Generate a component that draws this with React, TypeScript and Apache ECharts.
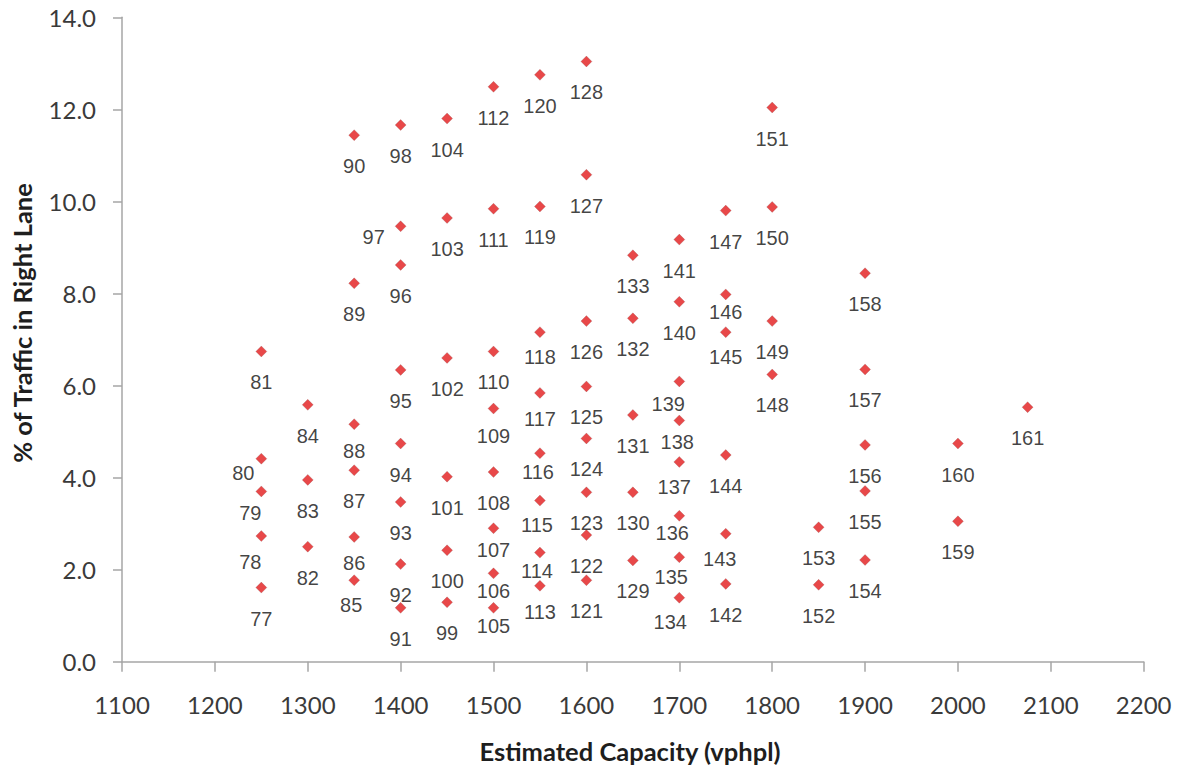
import React, { useEffect, useRef } from "react";
import * as echarts from "echarts";

const pointIds = [
  77, 78, 79, 80, 81, 82, 83, 84, 85, 86, 87, 88, 89, 90, 91, 92, 93, 94, 95, 96,
  97, 98, 99, 100, 101, 102, 103, 104, 105, 106, 107, 108, 109, 110, 111, 112,
  113, 114, 115, 116, 117, 118, 119, 120, 121, 122, 123, 124, 125, 126, 127, 128,
  129, 130, 131, 132, 133, 134, 135, 136, 137, 138, 139, 140, 141, 142, 143, 144,
  145, 146, 147, 148, 149, 150, 151, 152, 153, 154, 155, 156, 157, 158, 159, 160, 161,
];

const capacity = [
  1250, 1250, 1250, 1250, 1250, 1300, 1300, 1300, 1350, 1350, 1350, 1350, 1350, 1350,
  1400, 1400, 1400, 1400, 1400, 1400, 1400, 1400, 1450, 1450, 1450, 1450, 1450, 1450,
  1500, 1500, 1500, 1500, 1500, 1500, 1500, 1500, 1550, 1550, 1550, 1550, 1550, 1550,
  1550, 1550, 1600, 1600, 1600, 1600, 1600, 1600, 1600, 1600, 1650, 1650, 1650, 1650,
  1650, 1700, 1700, 1700, 1700, 1700, 1700, 1700, 1700, 1750, 1750, 1750, 1750, 1750,
  1750, 1800, 1800, 1800, 1800, 1850, 1850, 1900, 1900, 1900, 1900, 1900, 2000, 2000, 2075,
];

const rightLanePct = [
  1.61, 2.73, 3.7, 4.41, 6.74, 2.5, 3.95, 5.58, 1.77, 2.71, 4.16, 5.16, 8.22, 11.44,
  1.17, 2.12, 3.47, 4.74, 6.34, 8.62, 9.46, 11.66, 1.29, 2.42, 4.02, 6.6, 9.64, 11.8,
  1.17, 1.92, 2.9, 4.12, 5.5, 6.74, 9.84, 12.49, 1.65, 2.37, 3.5, 4.53, 5.84, 7.16,
  9.89, 12.75, 1.77, 2.75, 3.68, 4.85, 5.98, 7.4, 10.58, 13.04, 2.2, 3.68, 5.36, 7.46,
  8.83, 1.39, 2.27, 3.17, 4.34, 5.24, 6.09, 7.82, 9.17, 1.69, 2.78, 4.49, 7.16, 7.98,
  9.8, 6.24, 7.4, 9.88, 12.04, 1.67, 2.92, 2.21, 3.71, 4.71, 6.35, 8.44, 3.05, 4.74, 5.53,
];

const xTicks = { min: 1100, max: 2200, step: 100 };
const yTicks = { min: 0, max: 14, step: 2 };

const xTitle = "Estimated Capacity (vphpl)";
const yTitle = "% of Traffic in Right Lane";

// label placement (pixels, relative to marker centre); default below the marker
const defaultLabelOffset: [number, number] = [0, 31];
const labelNudges: Record<number, [number, number]> = {
  78: [-11, 26], 79: [-11, 22], 80: [-18, 14], 85: [-3, 25], 86: [0, 26], 88: [0, 27],
  97: [-27, 11], 105: [0, 18], 106: [0, 18], 107: [0, 22], 109: [0, 27], 113: [0, 26],
  114: [-3, 18], 115: [-3, 24], 116: [-2, 19], 117: [0, 26], 118: [0, 25], 134: [-9, 24],
  135: [-8, 20], 136: [-7, 17], 137: [-5, 25], 138: [-2, 21], 139: [-11, 23],
  143: [-6, 25], 145: [0, 25], 146: [0, 18],
};

export default function App() {
  const ref = useRef<HTMLDivElement>(null);

  useEffect(() => {
    if (!ref.current) return;
    const chart = echarts.init(ref.current, null, { renderer: "svg" });

    const data = pointIds.map((id, i) => ({
      value: [capacity[i], rightLanePct[i]],
      name: String(id),
      label: { offset: labelNudges[id] || defaultLabelOffset },
    }));

    const axisLine = { show: true, lineStyle: { color: "#a6a6a6", width: 1.5 } };
    const tickFont = { fontFamily: "Lato, 'Open Sans', sans-serif", fontSize: 24, color: "#3a3a3a" };

    chart.setOption({
      animation: false,
      backgroundColor: "#ffffff",
      grid: { left: 122, top: 17.3, right: 33.3, bottom: 106.3, containLabel: false },
      xAxis: {
        type: "value",
        min: xTicks.min,
        max: xTicks.max,
        interval: xTicks.step,
        axisLine: { ...axisLine, onZero: false },
        axisTick: { show: true, length: 10, inside: false, lineStyle: { color: "#a6a6a6", width: 1.5 } },
        splitLine: { show: false },
        axisLabel: { ...tickFont, margin: 31, formatter: (v: number) => String(v) },
      },
      yAxis: {
        type: "value",
        min: yTicks.min,
        max: yTicks.max,
        interval: yTicks.step,
        axisLine,
        axisTick: { show: true, length: 9, inside: false, lineStyle: { color: "#a6a6a6", width: 1.5 } },
        splitLine: { show: false },
        axisLabel: { ...tickFont, margin: 26, formatter: (v: number) => v.toFixed(1) },
      },
      series: [
        {
          type: "scatter",
          symbol: "diamond",
          symbolSize: 11,
          itemStyle: {
            color: "#e21a1c",
            borderColor: "rgba(120,80,80,0.45)",
            borderWidth: 0.6,
          },
          label: {
            show: true,
            position: "inside",
            formatter: "{b}",
            fontFamily: "'Liberation Sans', Arial, sans-serif",
            fontSize: 20,
            color: "#111111",
          },
          data,
        },
      ],
      graphic: [
        {
          type: "text",
          x: 630,
          y: 751,
          style: {
            text: xTitle,
            font: "bold 25.5px Lato, 'Open Sans', sans-serif",
            fill: "#1e1e1e",
            textAlign: "center",
            textVerticalAlign: "middle",
          },
        },
        {
          type: "text",
          x: 22,
          y: 323,
          rotation: Math.PI / 2,
          style: {
            text: yTitle,
            font: "bold 25.5px Lato, 'Open Sans', sans-serif",
            fill: "#1e1e1e",
            textAlign: "center",
            textVerticalAlign: "middle",
          },
        },
      ],
    });

    return () => chart.dispose();
  }, []);

  return (
    <div
      ref={ref}
      style={{ position: "absolute", left: 0, top: 0, width: 1177, height: 768 }}
    />
  );
}
